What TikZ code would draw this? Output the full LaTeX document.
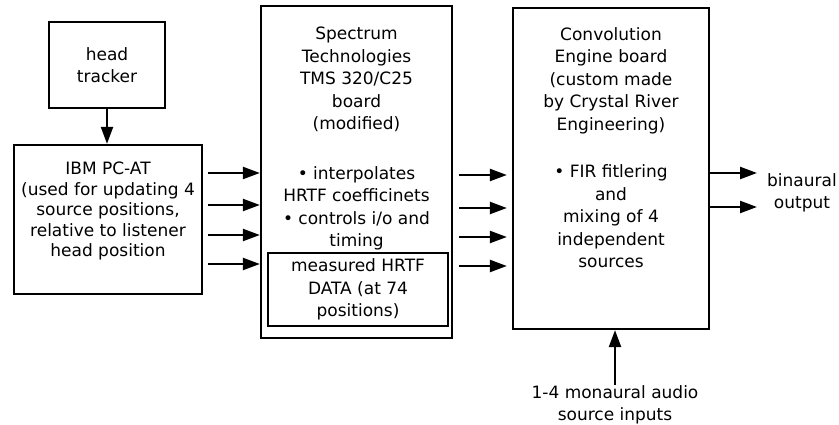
\documentclass[tikz,border=0pt]{standalone}
\usepackage{fontspec}
\setmainfont{DejaVu Sans}
\usetikzlibrary{arrows.meta,positioning}

\begin{document}
\begin{tikzpicture}[
  x=1pt, y=-1pt,
  font=\fontsize{17}{22.5}\selectfont,
  box/.style={draw, line width=2.2pt, inner sep=0pt},
  txt/.style={align=center, inner sep=0pt},
  arr/.style={-{Triangle[length=17pt,width=12pt]}, line width=2.2pt}
]
\useasboundingbox (0,0) rectangle (839,425);
% boxes
\node[box, txt, minimum width=116pt, minimum height=86pt] (tracker) at (107,65) {head\\tracker};
\node[box, minimum width=188pt, minimum height=149pt] (ibm) at (108,219.5) {};
\node[txt, anchor=north, font=\fontsize{17}{20.5}\selectfont] (ibmtxt) at (108,162)
  {IBM PC-AT\\(used for updating 4\\source positions,\\relative to listener\\head position};
\node[box, minimum width=191pt, minimum height=332pt] (spec) at (356.5,172) {};
\node[txt, anchor=north] (spectxt) at (356.5,27)
  {Spectrum\\Technologies\\TMS 320/C25\\board\\(modified)\\[27pt]%
   \textbullet\ interpolates\\HRTF coefficinets\\\textbullet\ controls i/o and\\timing};
\node[box, txt, minimum width=180pt, minimum height=73pt] (hrtf) at (358,289.5)
  {measured HRTF\\DATA (at 74\\positions)};
\node[box, minimum width=196pt, minimum height=321pt] (conv) at (611,168.5) {};
\node[txt, anchor=north] (convtxt) at (611,27)
  {Convolution\\Engine board\\(custom made\\by Crystal River\\Engineering)\\[25pt]%
   \textbullet\ FIR fitlering\\and\\mixing of 4\\independent\\sources};
\node[txt] (binaural) at (802,193) {binaural\\output};
\node[txt] (mono) at (615,405) {1-4 monaural audio\\source inputs};

% connectors
\draw[arr] (tracker.south) -- (tracker.south |- ibm.north);
\foreach \y in {173,205,235,264}
  \draw[arr, shorten <=5pt] (ibm.east |- 0,\y) -- (spec.west |- 0,\y);
\foreach \y in {175,208,237,266}
  \draw[arr, shorten <=6pt, shorten >=5pt] (spec.east |- 0,\y) -- (conv.west |- 0,\y);
\foreach \y in {173,207}
  \draw[arr, shorten >=10pt] (conv.east |- 0,\y) -- (binaural.west |- 0,\y);
\draw[arr] (mono.north) -- (mono.north |- conv.south);
\end{tikzpicture}
\end{document}
